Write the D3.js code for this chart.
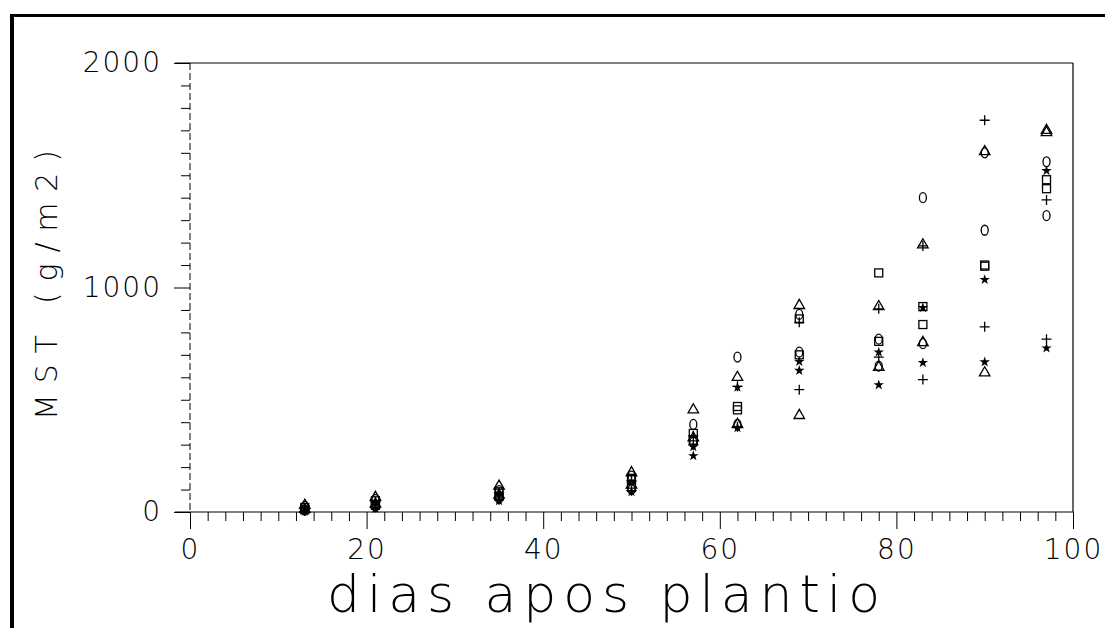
<!DOCTYPE html>
<html>
<head>
<meta charset="utf-8">
<script src="https://cdn.jsdelivr.net/npm/d3@7"></script>
<style>
  html, body { margin: 0; padding: 0; background: #fff; }
  svg { display: block; }
  text { font-family: "DejaVu Sans", "Liberation Sans", sans-serif; font-weight: 200; fill: #000; }
</style>
</head>
<body>
<svg id="chart" width="1105" height="628"></svg>
<script>
// days after planting
const days = [13, 21, 35, 50, 57, 62, 69, 78, 83, 90, 97];

// MST (g/m2), one array per treatment / marker
const circleA   = [25, 55, 95, 160, 390, 690, 880, 770, 1400, 1600, 1560];
const triangleA = [30, 65, 115, 175, 455, 600, 920, 915, 1190, 1605, 1700];
const squareA   = [20, 50, 90, 150, 350, 470, 860, 1065, 915, 1100, 1480];
const starA     = [15, 40, 80, 130, 290, 555, 670, 712, 910, 1035, 1520];
const plusA     = [18, 45, 85, 140, 340, 560, 845, 905, 1185, 1745, 1390];
const circleB   = [8, 25, 60, 100, 310, 390, 712, 650, 750, 1255, 1320];
const triangleB = [12, 35, 75, 120, 330, 390, 430, 645, 755, 620, 1690];
const squareB   = [10, 30, 70, 110, 320, 455, 700, 760, 835, 1095, 1440];
const starB     = [3, 15, 50, 90, 250, 375, 630, 566, 665, 668, 730];
const plusB     = [5, 20, 55, 95, 300, 380, 545, 690, 590, 825, 770];

const xTicks = d3.range(0, 101, 2);
const yTicks = d3.range(0, 2001, 100);

const series = [
  { shape: "circle", values: circleA },
  { shape: "triangle", values: triangleA },
  { shape: "square", values: squareA },
  { shape: "star", values: starA },
  { shape: "plus", values: plusA },
  { shape: "circle", values: circleB },
  { shape: "triangle", values: triangleB },
  { shape: "square", values: squareB },
  { shape: "star", values: starB },
  { shape: "plus", values: plusB }
];

const svg = d3.select("#chart");

// scanned page frame
svg.append("line").attr("x1", 12).attr("x2", 12).attr("y1", 14).attr("y2", 628)
  .attr("stroke", "#000").attr("stroke-width", 4);
svg.append("line").attr("x1", 10).attr("x2", 1105).attr("y1", 15.5).attr("y2", 15.5)
  .attr("stroke", "#000").attr("stroke-width", 3);

const x = d3.scaleLinear().domain([0, 100]).range([190, 1073]);
const y = d3.scaleLinear().domain([0, 2000]).range([512, 63]);

// x axis
const xAxis = svg.append("g")
  .attr("transform", `translate(0,${y(0)})`)
  .call(d3.axisBottom(x).tickValues(xTicks).tickSize(9).tickPadding(21)
    .tickFormat(d => d % 20 === 0 ? d : ""));
xAxis.select(".domain").remove();
xAxis.selectAll(".tick line").attr("y2", d => d % 20 === 0 ? 17 : 9);
xAxis.selectAll(".tick text").attr("font-size", 28).attr("dy", "0.6em")
  .style("font-family", "'DejaVu Sans', sans-serif").style("font-weight", 200)
  .attr("letter-spacing", 2);

// y axis
const yAxis = svg.append("g")
  .attr("transform", `translate(${x(0)},0)`)
  .call(d3.axisLeft(y).tickValues(yTicks).tickSize(9).tickPadding(19)
    .tickFormat(d => d % 1000 === 0 ? d : ""));
yAxis.select(".domain").remove();
yAxis.selectAll(".tick line").attr("x2", d => d % 1000 === 0 ? -16 : -9);
yAxis.selectAll(".tick text").attr("font-size", 28)
  .style("font-family", "'DejaVu Sans', sans-serif").style("font-weight", 200)
  .attr("letter-spacing", 2);

// frame lines
svg.append("line").attr("x1", 175).attr("x2", x(100)).attr("y1", y(0)).attr("y2", y(0))
  .attr("stroke", "#000").attr("stroke-width", 1.2);
svg.append("line").attr("x1", 175).attr("x2", x(100)).attr("y1", y(2000)).attr("y2", y(2000))
  .attr("stroke", "#000").attr("stroke-width", 1.2);
svg.append("line").attr("x1", x(0)).attr("x2", x(0)).attr("y1", y(2000)).attr("y2", y(0))
  .attr("stroke", "#000").attr("stroke-width", 1).attr("stroke-dasharray", "7,3");
svg.append("line").attr("x1", x(100)).attr("x2", x(100)).attr("y1", y(2000)).attr("y2", y(0))
  .attr("stroke", "#000").attr("stroke-width", 1.2);

// markers
const star = d3.symbol().type(d3.symbolStar).size(34)();
const tri = d3.symbol().type(d3.symbolTriangle).size(48)();

const pts = svg.append("g");
series.forEach(s => {
  s.values.forEach((v, i) => {
    const g = pts.append("g").attr("transform", `translate(${x(days[i])},${y(v)})`);
    if (s.shape === "circle") {
      g.append("ellipse").attr("rx", 3.5).attr("ry", 5)
        .attr("fill", "none").attr("stroke", "#000").attr("stroke-width", 1.3);
    } else if (s.shape === "triangle") {
      g.append("path").attr("d", tri)
        .attr("fill", "none").attr("stroke", "#000").attr("stroke-width", 1.3);
    } else if (s.shape === "square") {
      g.append("rect").attr("x", -4).attr("y", -4).attr("width", 8).attr("height", 8)
        .attr("fill", "none").attr("stroke", "#000").attr("stroke-width", 1.3);
    } else if (s.shape === "star") {
      g.append("path").attr("d", star).attr("fill", "#000");
    } else {
      g.append("path").attr("d", "M-5,0H5M0,-5V5")
        .attr("stroke", "#000").attr("stroke-width", 1.3);
    }
  });
});

// titles
svg.append("text")
  .attr("x", 327).attr("y", 612)
  .attr("font-size", 52)
  .attr("textLength", 553).attr("lengthAdjust", "spacing")
  .text("dias apos plantio");

svg.append("text")
  .attr("transform", "translate(57,420) rotate(-90)")
  .attr("font-size", 30)
  .attr("textLength", 270).attr("lengthAdjust", "spacing")
  .text("MST (g/m2)");
</script>
</body>
</html>
